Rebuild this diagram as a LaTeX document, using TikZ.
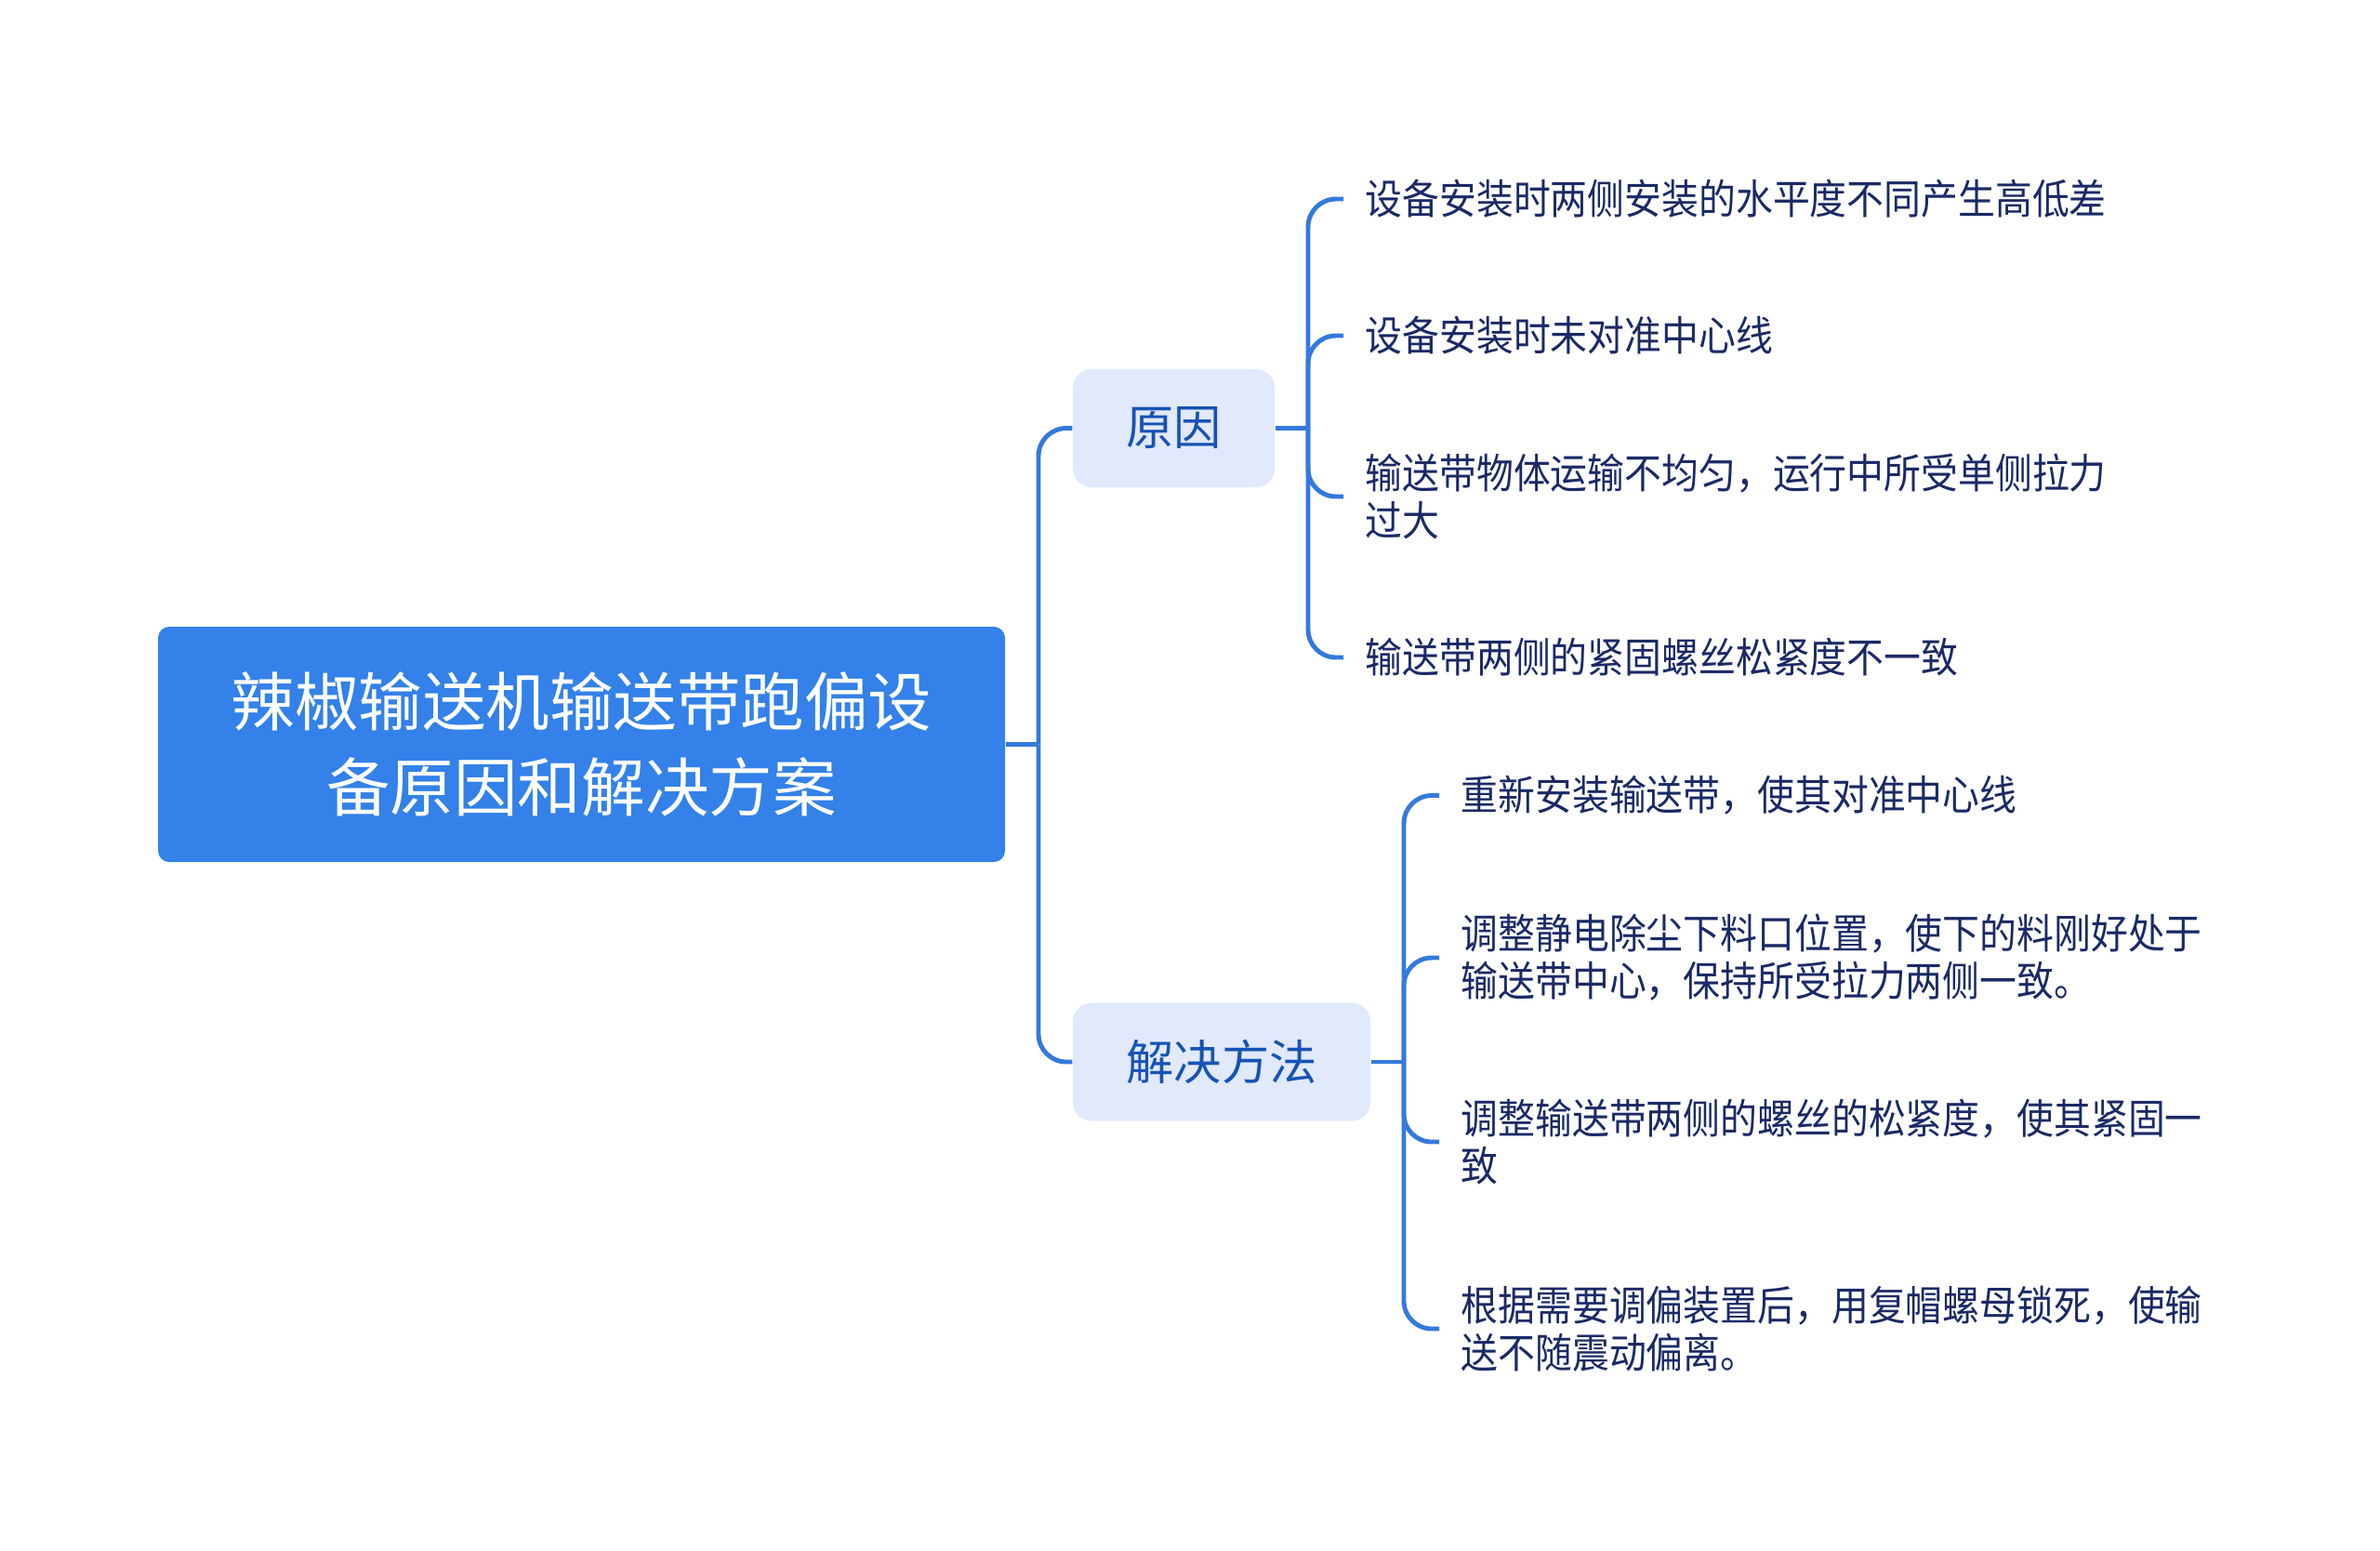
\documentclass[tikz,border=0pt]{standalone}
\usepackage{fontspec}
\setmainfont{Noto Sans CJK SC}
\newfontfamily\leaffont[FakeStretch=0.9]{Noto Sans CJK SC}
\definecolor{rootblue}{HTML}{3381E9}
\definecolor{boxfill}{HTML}{E1E9FB}
\definecolor{linkblue}{HTML}{3479DD}
\definecolor{branchtext}{HTML}{1753B5}
\definecolor{leaftext}{HTML}{1B2A66}
\tikzset{
  rootbox/.style={fill=rootblue,rounded corners=0.12cm,text=white,align=center,
    minimum width=9.11cm,minimum height=2.53cm,font=\fontsize{19.5pt}{26pt}\selectfont},
  branchbox/.style={fill=boxfill,rounded corners=0.2cm,text=branchtext,
    minimum height=1.27cm,font=\fontsize{14.6pt}{17pt}\selectfont},
  leaf/.style={anchor=west,align=left,inner xsep=0.23cm,inner ysep=0pt,text=leaftext,
    font=\leaffont\fontsize{12.6pt}{14.5pt}\selectfont},
  link/.style={draw=linkblue,line width=1.4pt,rounded corners=0.3cm}
}
\begin{document}
\begin{tikzpicture}

      \useasboundingbox (0,0) rectangle (25.6,-16.67);

      \node[rootbox] (root) at (6.255,-8.005) {辣椒输送机输送带跑偏设\\备原因和解决方案};

      \begin{scope}[every node/.style={branchbox}]
        \node[minimum width=2.17cm] (cause) at (12.625,-4.605) {原因};
        \node[minimum width=3.2cm]  (fix)   at (13.14,-11.42)  {解决方法};
      \end{scope}

      \begin{scope}[every node/.style={leaf}]
        \node (c1) at (14.45,-2.14) {设备安装时两侧安装的水平度不同产生高低差};
        \node (c2) at (14.45,-3.61) {设备安装时未对准中心线};
        \node (c3) at (14.45,-5.34) {输送带物体运输不均匀，运行中所受单侧拉力\\过大};
        \node (c4) at (14.45,-7.07) {输送带两侧的紧固螺丝松紧度不一致};
        \node (f1) at (15.48,-8.555) {重新安装输送带，使其对准中心线};
        \node (f2) at (15.48,-10.30) {调整静电除尘下料口位置，使下的料刚好处于\\输送带中心，保持所受拉力两侧一致。};
        \node (f3) at (15.48,-12.28) {调整输送带两侧的螺丝的松紧度，使其紧固一\\致};
        \node (f4) at (15.48,-14.29) {根据需要调偏装置后，用复帽螺母锁死，使输\\送不随震动偏离。};
      \end{scope}

      \coordinate (rj) at (11.17,-8.005);
      \coordinate (cj) at (14.07,-4.605);
      \coordinate (fj) at (15.10,-11.42);

      \begin{scope}[every path/.style={link}]
        \draw (root.east) -- (rj);
        \draw (rj) |- (cause.west);
        \draw (rj) |- (fix.west);
        \draw (cause.east) -- (cj);
        \draw (fix.east) -- (fj);
        \foreach \n in {c1,c2,c3,c4} \draw (cj) |- (\n.west);
        \foreach \n in {f1,f2,f3,f4} \draw (fj) |- (\n.west);
      \end{scope}

    \end{tikzpicture}
\end{document}
